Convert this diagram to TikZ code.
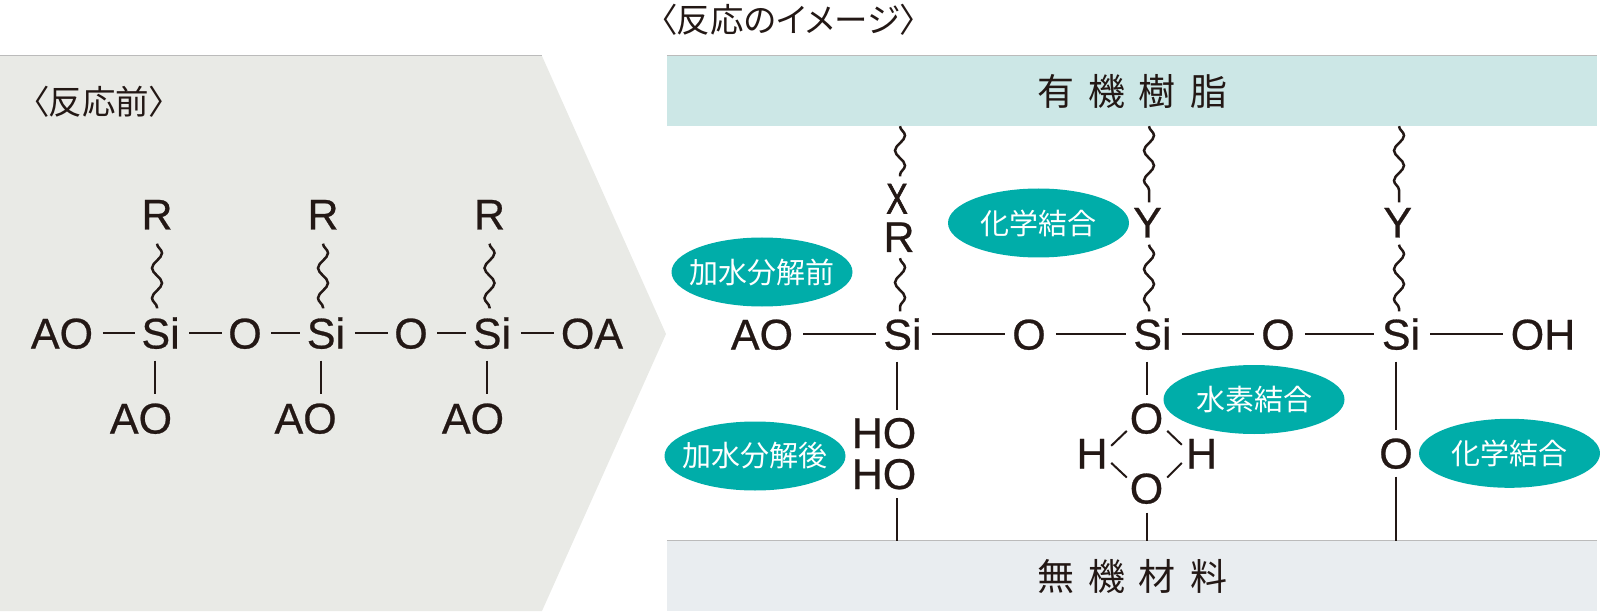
\documentclass[tikz,border=0pt]{standalone}
\usepackage{fontspec}
\setmainfont{Liberation Sans}
\newfontfamily\chem[FakeBold=0.6]{Liberation Sans}
\newfontfamily\chemx[FakeBold=1.6]{Liberation Sans}
\newfontfamily\cjk[RawFeature=+palt]{Noto Sans CJK JP}
\usetikzlibrary{shapes.geometric}
\usetikzlibrary{decorations.pathmorphing}
\definecolor{ink}{HTML}{231815}
\definecolor{teal}{HTML}{00ADA9}
\definecolor{panel}{HTML}{E9EAE6}
\definecolor{resinband}{HTML}{CCE7E6}
\definecolor{inorgband}{HTML}{E9EDF0}
\definecolor{rim}{HTML}{BBBBBB}
\tikzset{
	atom/.style={inner sep=0pt, text=ink, text height=31pt, text depth=0pt, font=\chem\fontsize{43}{43}\selectfont},
	bond/.style={draw=ink, line width=2pt},
	hbond/.style={bond, shorten <=9.5pt, shorten >=6.5pt},
	hbondwide/.style={bond, shorten <=10pt, shorten >=7.5pt},
	wave/.style={draw=ink, line width=2.5pt, decorate, decoration={snake, segment length=30pt, amplitude=5pt}},
	tag/.style={ellipse, fill=teal, inner ysep=0pt, inner xsep=-10pt, minimum width=181pt, minimum height=69pt, text=white, font=\cjk\fontsize{29}{29}\selectfont},
	band/.style={inner sep=0pt, minimum width=930pt, minimum height=70pt, text=ink, font=\cjk\fontsize{37}{37}\selectfont},
	heading/.style={inner sep=0pt, anchor=west, text=ink, font=\cjk\fontsize{33.5}{34}\selectfont}
}
\begin{document}
\begin{tikzpicture}[x=1pt,y=-1pt]
	\useasboundingbox (0,0) rectangle (1600,612);
	
	% left panel
	\fill[panel] (0,56) -- (542,56) -- (666,334) -- (542,611) -- (0,611) -- cycle;
	\draw[rim, line width=1pt] (0,56) -- (542,56);
	\node[heading] (before) at (32,102) {〈反応前〉};
	
	% left chain
	\node[atom] (ao0) at (62,333) {AO};
	\node[atom] (si1) at (160.6,333) {Si};
	\node[atom] (o1) at (245,333) {O};
	\node[atom] (si2) at (326,333) {Si};
	\node[atom] (o2) at (411,333) {O};
	\node[atom] (si3) at (492,333) {Si};
	\node[atom] (oa) at (592,333) {OA};
	\draw[hbond] (ao0.east) -- (si1.west);
	\draw[hbond] (si1.east) -- (o1.west);
	\draw[hbond] (o1.east) -- (si2.west);
	\draw[hbond] (si2.east) -- (o2.west);
	\draw[hbond] (o2.east) -- (si3.west);
	\draw[hbond] (si3.east) -- (oa.west);
	
	% left R groups
	\node[atom] (r1) at (157,214) {R};
	\node[atom] (r2) at (323,214) {R};
	\node[atom] (r3) at (489.5,214) {R};
	\draw[wave] ([yshift=-14pt]r1.south) -- ([yshift=9pt]r1.south |- si1.north);
	\draw[wave] ([yshift=-14pt]r2.south) -- ([yshift=9pt]r2.south |- si2.north);
	\draw[wave] ([yshift=-14pt]r3.south) -- ([yshift=9pt]r3.south |- si3.north);
	
	% left AO groups
	\def\va{155} % x of bond below Si
	\def\vb{321}
	\def\vc{487}
	\coordinate (v1) at (\va,0);
	\coordinate (v2) at (\vb,0);
	\coordinate (v3) at (\vc,0);
	\node[atom] (ao1) at (141,418) {AO};
	\node[atom] (ao2) at (305.6,418) {AO};
	\node[atom] (ao3) at (473,418) {AO};
	\draw[bond] ([yshift=-12pt]v1 |- si1.south) -- ([yshift=8pt]v1 |- ao1.north);
	\draw[bond] ([yshift=-12pt]v2 |- si2.south) -- ([yshift=8pt]v2 |- ao2.north);
	\draw[bond] ([yshift=-12pt]v3 |- si3.south) -- ([yshift=8pt]v3 |- ao3.north);
	
	% right side, bands
	\node[heading] (image) at (660,20) {〈反応のイメージ〉};
	\node[band, fill=resinband] (resin) at (1132,91) {有\hspace{14pt}機\hspace{14pt}樹\hspace{14pt}脂};
	\node[band, fill=inorgband] (inorg) at (1132,576) {無\hspace{14pt}機\hspace{14pt}材\hspace{14pt}料};
	\draw[rim, line width=1pt] (resin.north west) -- (resin.north east);
	\draw[rim, line width=1pt] (inorg.north west) -- (inorg.north east);
	
	% right chain
	\node[atom] (ra) at (762,334) {AO};
	\node[atom] (rs1) at (902.5,334) {Si};
	\node[atom] (ro1) at (1029,334) {O};
	\node[atom] (rs2) at (1152.5,334) {Si};
	\node[atom] (ro2) at (1278,334) {O};
	\node[atom] (rs3) at (1401,334) {Si};
	\node[atom] (roh) at (1543,334) {OH};
	\draw[hbondwide] (ra.east) -- (rs1.west);
	\draw[hbondwide] (rs1.east) -- (ro1.west);
	\draw[hbondwide] (ro1.east) -- (rs2.west);
	\draw[hbondwide] (rs2.east) -- (ro2.west);
	\draw[hbondwide] (ro2.east) -- (rs3.west);
	\draw[hbondwide] (rs3.east) -- (roh.west);
	
	% first column, before hydrolysis
	\coordinate (c1) at (900,0);
	\node[atom] (rx) at (897,198) {\scalebox{.75}[1]{\chemx X}};
	\node[atom] (rr) at (899,236.5) {R};
	\draw[wave] (c1 |- resin.south) -- ([yshift=6pt]c1 |- rx.north);
	\draw[wave] ([yshift=-6pt]c1 |- rr.south) -- ([yshift=7pt]c1 |- rs1.north);
	
	% first column, after hydrolysis
	\coordinate (d1) at (897,0);
	\node[atom] (ho1) at (884,432.5) {HO};
	\node[atom] (ho2) at (884,473.5) {HO};
	\draw[bond] ([yshift=-12pt]d1 |- rs1.south) -- ([yshift=7pt]d1 |- ho1.north);
	\draw[bond] ([yshift=-9pt]d1 |- ho2.south) -- (d1 |- inorg.north);
	
	% second column
	\coordinate (c2) at (1149,0);
	\node[atom] (ry1) at (1147.5,222) {Y};
	\draw[wave] (c2 |- resin.south) -- ([yshift=4pt]c2 |- ry1.north);
	\draw[wave] ([yshift=-7pt]c2 |- ry1.south) -- ([yshift=7pt]c2 |- rs2.north);
	
	% second column, water ring
	\coordinate (d2) at (1146.6,0);
	\node[atom] (wo1) at (1146.5,418) {O};
	\node[atom] (wo2) at (1146.5,488) {O};
	\node[atom] (wh1) at (1092,453) {H};
	\node[atom] (wh2) at (1201.5,453) {H};
	\draw[bond] ([yshift=-12pt]d2 |- rs2.south) -- ([yshift=7pt]d2 |- wo1.north);
	\draw[bond] ([yshift=-9pt]d2 |- wo2.south) -- (d2 |- inorg.north);
	\draw[bond] ([shift={(-2.8pt,2.8pt)}]wo1.south west) -- ([shift={(3.5pt,-8.5pt)}]wh1.north east);
	\draw[bond] ([shift={(3.8pt,2.8pt)}]wo1.south east) -- ([shift={(-4pt,-7.5pt)}]wh2.north west);
	\draw[bond] ([shift={(3.5pt,5.8pt)}]wh1.south east) -- ([shift={(-2.8pt,-5.2pt)}]wo2.north west);
	\draw[bond] ([shift={(-4pt,5.8pt)}]wh2.south west) -- ([shift={(3.8pt,-5.2pt)}]wo2.north east);
	
	% third column
	\coordinate (c3) at (1399,0);
	\node[atom] (ry2) at (1397.7,222) {Y};
	\draw[wave] (c3 |- resin.south) -- ([yshift=4pt]c3 |- ry2.north);
	\draw[wave] ([yshift=-7pt]c3 |- ry2.south) -- ([yshift=7pt]c3 |- rs3.north);
	
	% third column, bottom
	\coordinate (d3) at (1396,0);
	\node[atom] (ro3) at (1396,453) {O};
	\draw[bond] ([yshift=-12pt]d3 |- rs3.south) -- ([yshift=7pt]d3 |- ro3.north);
	\draw[bond] ([yshift=-8pt]d3 |- ro3.south) -- (d3 |- inorg.north);
	
	% tags
	\node[tag] (tagpre) at (762,272) {加水分解前};
	\node[tag] (tagpost) at (755,456) {加水分解後};
	\node[tag] (tagchem) at (1038.5,223) {化学結合};
	\node[tag] (taghyd) at (1254,399.5) {水素結合};
	\node[tag] (tagchemb) at (1509.5,453.3) {化学結合};
\end{tikzpicture}
\end{document}
